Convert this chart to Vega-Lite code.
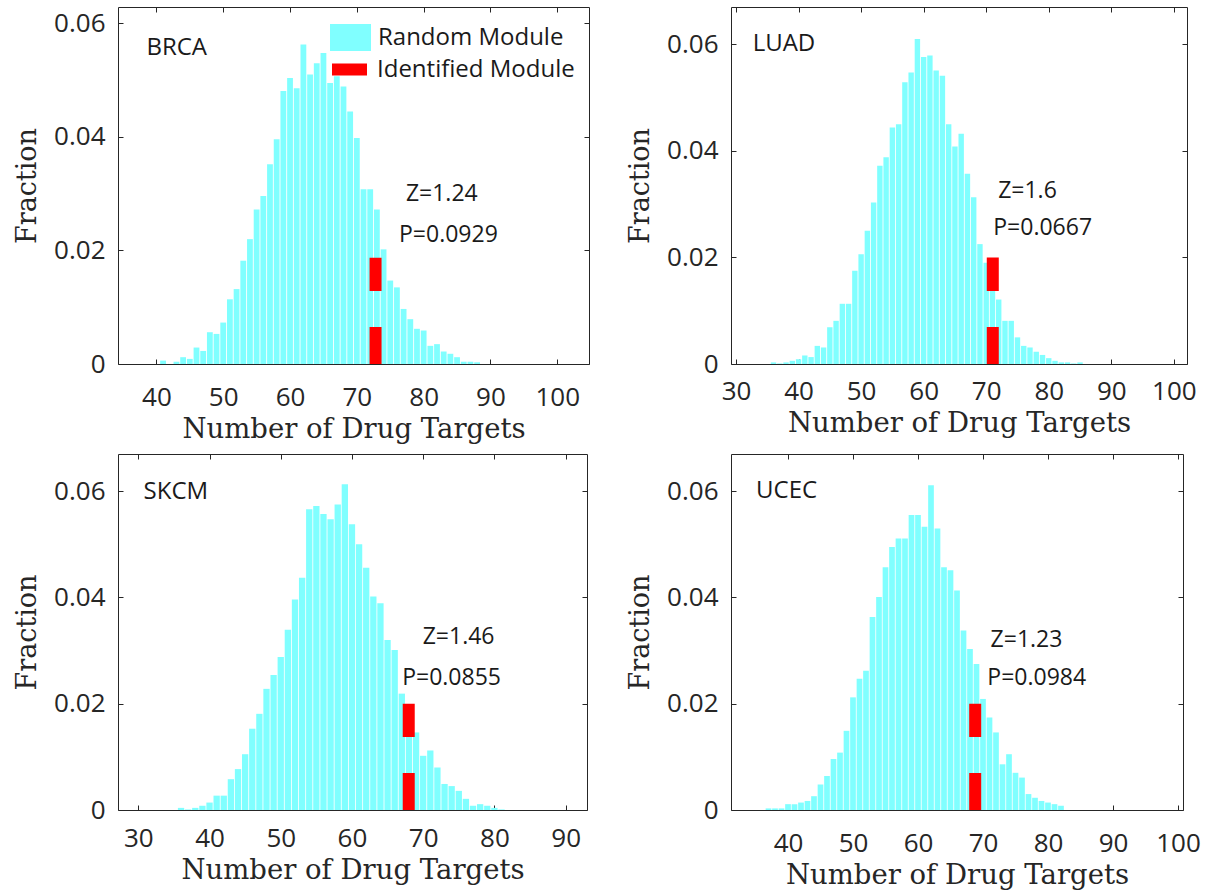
{
  "$schema": "https://vega.github.io/schema/vega-lite/v6.json",
  "autosize": {"type": "none"},
  "padding": {"left": 118, "top": 7, "right": 1093, "bottom": 889},
  "background": "white",
  "columns": 2,
  "spacing": {"column": 142, "row": 90},
  "bounds": "flush",
  "align": "all",
  "resolve": {"scale": {"fill": "independent", "stroke": "independent"}, "legend": {"fill": "independent", "stroke": "independent"}},
  "datasets": {
    "brca": [
      {"n": 41, "f": 0.0006}, {"n": 43, "f": 0.0004}, {"n": 44, "f": 0.0012}, {"n": 45, "f": 0.0009},
      {"n": 46, "f": 0.0029}, {"n": 47, "f": 0.0023}, {"n": 48, "f": 0.0056}, {"n": 49, "f": 0.0053},
      {"n": 50, "f": 0.0073}, {"n": 51, "f": 0.0114}, {"n": 52, "f": 0.0132}, {"n": 53, "f": 0.0182},
      {"n": 54, "f": 0.0220}, {"n": 55, "f": 0.0272}, {"n": 56, "f": 0.0296}, {"n": 57, "f": 0.0352},
      {"n": 58, "f": 0.0396}, {"n": 59, "f": 0.0481}, {"n": 60, "f": 0.0504}, {"n": 61, "f": 0.0486},
      {"n": 62, "f": 0.0563}, {"n": 63, "f": 0.0510}, {"n": 64, "f": 0.0530}, {"n": 65, "f": 0.0548},
      {"n": 66, "f": 0.0495}, {"n": 67, "f": 0.0507}, {"n": 68, "f": 0.0489}, {"n": 69, "f": 0.0445},
      {"n": 70, "f": 0.0398}, {"n": 71, "f": 0.0308}, {"n": 72, "f": 0.0308}, {"n": 73, "f": 0.0272},
      {"n": 74, "f": 0.0202}, {"n": 75, "f": 0.0147}, {"n": 76, "f": 0.0135}, {"n": 77, "f": 0.0097},
      {"n": 78, "f": 0.0079}, {"n": 79, "f": 0.0062}, {"n": 80, "f": 0.0059}, {"n": 81, "f": 0.0032},
      {"n": 82, "f": 0.0035}, {"n": 83, "f": 0.0022}, {"n": 84, "f": 0.0018}, {"n": 85, "f": 0.0012},
      {"n": 86, "f": 0.0004}, {"n": 87, "f": 0.0004}, {"n": 88, "f": 0.0003}
    ],
    "luad": [
      {"n": 36, "f": 0.0003}, {"n": 37, "f": 0.0001}, {"n": 38, "f": 0.0003}, {"n": 39, "f": 0.0006},
      {"n": 40, "f": 0.0009}, {"n": 41, "f": 0.0016}, {"n": 42, "f": 0.0013}, {"n": 43, "f": 0.0034},
      {"n": 44, "f": 0.0031}, {"n": 45, "f": 0.0069}, {"n": 46, "f": 0.0081}, {"n": 47, "f": 0.0113},
      {"n": 48, "f": 0.0113}, {"n": 49, "f": 0.0175}, {"n": 50, "f": 0.0206}, {"n": 51, "f": 0.0250},
      {"n": 52, "f": 0.0303}, {"n": 53, "f": 0.0372}, {"n": 54, "f": 0.0388}, {"n": 55, "f": 0.0444},
      {"n": 56, "f": 0.0450}, {"n": 57, "f": 0.0529}, {"n": 58, "f": 0.0547}, {"n": 59, "f": 0.0610},
      {"n": 60, "f": 0.0576}, {"n": 61, "f": 0.0579}, {"n": 62, "f": 0.0551}, {"n": 63, "f": 0.0541},
      {"n": 64, "f": 0.0450}, {"n": 65, "f": 0.0408}, {"n": 66, "f": 0.0432}, {"n": 67, "f": 0.0357},
      {"n": 68, "f": 0.0313}, {"n": 69, "f": 0.0225}, {"n": 70, "f": 0.0190}, {"n": 71, "f": 0.0140},
      {"n": 72, "f": 0.0121}, {"n": 73, "f": 0.0081}, {"n": 74, "f": 0.0081}, {"n": 75, "f": 0.0050},
      {"n": 76, "f": 0.0034}, {"n": 77, "f": 0.0031}, {"n": 78, "f": 0.0023}, {"n": 79, "f": 0.0017},
      {"n": 80, "f": 0.0011}, {"n": 81, "f": 0.0006}, {"n": 82, "f": 0.0003}, {"n": 83, "f": 0.0003},
      {"n": 84, "f": 0.0001}, {"n": 85, "f": 0.0003}
    ],
    "skcm": [
      {"n": 36, "f": 0.0004}, {"n": 37, "f": 0.0001}, {"n": 38, "f": 0.0004}, {"n": 39, "f": 0.0008},
      {"n": 40, "f": 0.0014}, {"n": 41, "f": 0.0027}, {"n": 42, "f": 0.0027}, {"n": 43, "f": 0.0058},
      {"n": 44, "f": 0.0077}, {"n": 45, "f": 0.0105}, {"n": 46, "f": 0.0153}, {"n": 47, "f": 0.0181},
      {"n": 48, "f": 0.0228}, {"n": 49, "f": 0.0254}, {"n": 50, "f": 0.0288}, {"n": 51, "f": 0.0339},
      {"n": 52, "f": 0.0396}, {"n": 53, "f": 0.0437}, {"n": 54, "f": 0.0566}, {"n": 55, "f": 0.0572},
      {"n": 56, "f": 0.0557}, {"n": 57, "f": 0.0547}, {"n": 58, "f": 0.0575}, {"n": 59, "f": 0.0613},
      {"n": 60, "f": 0.0538}, {"n": 61, "f": 0.0500}, {"n": 62, "f": 0.0456}, {"n": 63, "f": 0.0402},
      {"n": 64, "f": 0.0389}, {"n": 65, "f": 0.0320}, {"n": 66, "f": 0.0301}, {"n": 67, "f": 0.0219},
      {"n": 68, "f": 0.0190}, {"n": 69, "f": 0.0146}, {"n": 70, "f": 0.0102}, {"n": 71, "f": 0.0112},
      {"n": 72, "f": 0.0080}, {"n": 73, "f": 0.0049}, {"n": 74, "f": 0.0045}, {"n": 75, "f": 0.0036},
      {"n": 76, "f": 0.0021}, {"n": 77, "f": 0.0008}, {"n": 78, "f": 0.0011}, {"n": 79, "f": 0.0008},
      {"n": 80, "f": 0.0004}, {"n": 81, "f": 0.0001}
    ],
    "ucec": [
      {"n": 37, "f": 0.0003}, {"n": 38, "f": 0.0003}, {"n": 39, "f": 0.0003}, {"n": 40, "f": 0.0011},
      {"n": 41, "f": 0.0011}, {"n": 42, "f": 0.0014}, {"n": 43, "f": 0.0017}, {"n": 44, "f": 0.0026},
      {"n": 45, "f": 0.0048}, {"n": 46, "f": 0.0064}, {"n": 47, "f": 0.0096}, {"n": 48, "f": 0.0108},
      {"n": 49, "f": 0.0149}, {"n": 50, "f": 0.0212}, {"n": 51, "f": 0.0247}, {"n": 52, "f": 0.0262},
      {"n": 53, "f": 0.0363}, {"n": 54, "f": 0.0401}, {"n": 55, "f": 0.0457}, {"n": 56, "f": 0.0495},
      {"n": 57, "f": 0.0511}, {"n": 58, "f": 0.0511}, {"n": 59, "f": 0.0555}, {"n": 60, "f": 0.0555},
      {"n": 61, "f": 0.0533}, {"n": 62, "f": 0.0611}, {"n": 63, "f": 0.0530}, {"n": 64, "f": 0.0457},
      {"n": 65, "f": 0.0451}, {"n": 66, "f": 0.0413}, {"n": 67, "f": 0.0338}, {"n": 68, "f": 0.0303},
      {"n": 69, "f": 0.0275}, {"n": 70, "f": 0.0209}, {"n": 71, "f": 0.0174}, {"n": 72, "f": 0.0146},
      {"n": 73, "f": 0.0086}, {"n": 74, "f": 0.0105}, {"n": 75, "f": 0.0070}, {"n": 76, "f": 0.0061},
      {"n": 77, "f": 0.0030}, {"n": 78, "f": 0.0023}, {"n": 79, "f": 0.0017}, {"n": 80, "f": 0.0014},
      {"n": 81, "f": 0.0011}, {"n": 82, "f": 0.0008}
    ]
  },
  "concat": [
    {
      "width": 471, "height": 357,
      "resolve": {"axis": {"x": "independent", "y": "independent"}},
      "layer": [
        {
          "data": {"name": "brca"},
          "mark": {"type": "bar", "width": 5.8},
          "encoding": {
            "x": {"field": "n", "type": "quantitative", "scale": {"domain": [35, 104], "nice": false, "zero": false},
                  "axis": {"orient": "bottom", "values": [40, 50, 60, 70, 80, 90, 100], "title": "Number of Drug Targets"}},
            "y": {"field": "f", "type": "quantitative", "scale": {"domain": [0, 0.0629], "nice": false, "zero": true},
                  "axis": {"orient": "left", "values": [0, 0.02, 0.04, 0.06], "labelExpr": "datum.value == 0 ? '0' : format(datum.value, '.2f')", "title": "Fraction"}},
            "fill": {"datum": "Random Module", "type": "nominal", "scale": {"range": ["#80ffff"]},
                     "legend": {"title": null, "orient": "none", "legendX": 212, "legendY": 10, "symbolType": "M-1,-0.66L1,-0.66L1,0.66L-1,0.66Z", "symbolSize": 1681, "symbolStrokeWidth": 0, "labelOffset": 7, "labelLimit": 0}}
          }
        },
        {
          "data": {"values": [{"n": 72.8, "lo": 0, "hi": 0.0187}]},
          "mark": {"type": "rule", "strokeWidth": 12, "strokeDash": [37, 36], "strokeCap": "butt"},
          "encoding": {
            "x": {"field": "n", "type": "quantitative", "axis": {"orient": "top", "values": [40, 50, 60, 70, 80, 90, 100], "labels": false, "title": null}},
            "y": {"field": "lo", "type": "quantitative", "axis": {"orient": "right", "values": [0, 0.02, 0.04, 0.06], "labels": false, "title": null}},
            "y2": {"field": "hi"},
            "stroke": {"datum": "Identified Module", "type": "nominal", "scale": {"range": ["#ff0000"]},
                       "legend": {"title": null, "orient": "none", "legendX": 208, "legendY": 39, "symbolType": "stroke", "symbolSize": 1225, "symbolStrokeWidth": 12, "symbolDash": [100, 0], "labelOffset": 4, "labelLimit": 0}}
          }
        },
        {
          "data": {"values": [{"x": 38.5, "y": 0.0557, "t": "BRCA"}]},
          "mark": {"type": "text", "align": "left", "baseline": "middle", "font": "Open Sans", "fontSize": 24, "color": "#1a1a1a"},
          "encoding": {"x": {"field": "x", "type": "quantitative", "axis": null}, "y": {"field": "y", "type": "quantitative", "axis": null}, "text": {"field": "t"}}
        },
        {
          "data": {"values": [{"x": 77.34, "y": 0.02995, "t": "Z=1.24"}, {"x": 76.31, "y": 0.02273, "t": "P=0.0929"}]},
          "mark": {"type": "text", "align": "left", "baseline": "middle", "font": "Open Sans", "fontSize": 23, "color": "#1a1a1a"},
          "encoding": {"x": {"field": "x", "type": "quantitative", "axis": null}, "y": {"field": "y", "type": "quantitative", "axis": null}, "text": {"field": "t"}}
        }
      ]
    },
    {
      "width": 456, "height": 357,
      "resolve": {"axis": {"x": "independent", "y": "independent"}},
      "layer": [
        {
          "data": {"name": "luad"},
          "mark": {"type": "bar", "width": 5.4, "color": "#80ffff"},
          "encoding": {
            "x": {"field": "n", "type": "quantitative", "scale": {"domain": [30, 101.3], "nice": false, "zero": false},
                  "axis": {"orient": "bottom", "values": [30, 40, 50, 60, 70, 80, 90, 100], "title": "Number of Drug Targets", "labelPadding": 19}},
            "y": {"field": "f", "type": "quantitative", "scale": {"domain": [0, 0.067], "nice": false, "zero": true},
                  "axis": {"orient": "left", "values": [0, 0.02, 0.04, 0.06], "labelExpr": "datum.value == 0 ? '0' : format(datum.value, '.2f')", "title": "Fraction"}}
          }
        },
        {
          "data": {"values": [{"n": 71.05, "lo": 0, "hi": 0.02}]},
          "mark": {"type": "rule", "color": "#ff0000", "strokeWidth": 12, "strokeDash": [37, 36], "strokeCap": "butt"},
          "encoding": {
            "x": {"field": "n", "type": "quantitative", "axis": {"orient": "top", "values": [30, 40, 50, 60, 70, 80, 90, 100], "labels": false, "title": null}},
            "y": {"field": "lo", "type": "quantitative", "axis": {"orient": "right", "values": [0, 0.02, 0.04, 0.06], "labels": false, "title": null}},
            "y2": {"field": "hi"}
          }
        },
        {
          "data": {"values": [{"x": 32.66, "y": 0.06006, "t": "LUAD"}]},
          "mark": {"type": "text", "align": "left", "baseline": "middle", "font": "Open Sans", "fontSize": 24, "color": "#1a1a1a"},
          "encoding": {"x": {"field": "x", "type": "quantitative", "axis": null}, "y": {"field": "y", "type": "quantitative", "axis": null}, "text": {"field": "t"}}
        },
        {
          "data": {"values": [{"x": 71.91, "y": 0.03238, "t": "Z=1.6"}, {"x": 71.13, "y": 0.02553, "t": "P=0.0667"}]},
          "mark": {"type": "text", "align": "left", "baseline": "middle", "font": "Open Sans", "fontSize": 23, "color": "#1a1a1a"},
          "encoding": {"x": {"field": "x", "type": "quantitative", "axis": null}, "y": {"field": "y", "type": "quantitative", "axis": null}, "text": {"field": "t"}}
        }
      ]
    },
    {
      "width": 469, "height": 356,
      "resolve": {"axis": {"x": "independent", "y": "independent"}},
      "layer": [
        {
          "data": {"name": "skcm"},
          "mark": {"type": "bar", "width": 6.3, "color": "#80ffff"},
          "encoding": {
            "x": {"field": "n", "type": "quantitative", "scale": {"domain": [27.85, 92.3], "nice": false, "zero": false},
                  "axis": {"orient": "bottom", "values": [30, 40, 50, 60, 70, 80, 90], "title": "Number of Drug Targets", "labelPadding": 20}},
            "y": {"field": "f", "type": "quantitative", "scale": {"domain": [0, 0.067], "nice": false, "zero": true},
                  "axis": {"orient": "left", "values": [0, 0.02, 0.04, 0.06], "labelExpr": "datum.value == 0 ? '0' : format(datum.value, '.2f')", "title": "Fraction"}}
          }
        },
        {
          "data": {"values": [{"n": 67.97, "lo": 0, "hi": 0.02}]},
          "mark": {"type": "rule", "color": "#ff0000", "strokeWidth": 12, "strokeDash": [37, 36], "strokeCap": "butt"},
          "encoding": {
            "x": {"field": "n", "type": "quantitative", "axis": {"orient": "top", "values": [30, 40, 50, 60, 70, 80, 90], "labels": false, "title": null}},
            "y": {"field": "lo", "type": "quantitative", "axis": {"orient": "right", "values": [0, 0.02, 0.04, 0.06], "labels": false, "title": null}},
            "y2": {"field": "hi"}
          }
        },
        {
          "data": {"values": [{"x": 30.74, "y": 0.05994, "t": "SKCM"}]},
          "mark": {"type": "text", "align": "left", "baseline": "middle", "font": "Open Sans", "fontSize": 24, "color": "#1a1a1a"},
          "encoding": {"x": {"field": "x", "type": "quantitative", "axis": null}, "y": {"field": "y", "type": "quantitative", "axis": null}, "text": {"field": "t"}}
        },
        {
          "data": {"values": [{"x": 69.93, "y": 0.0325, "t": "Z=1.46"}, {"x": 67.05, "y": 0.0248, "t": "P=0.0855"}]},
          "mark": {"type": "text", "align": "left", "baseline": "middle", "font": "Open Sans", "fontSize": 23, "color": "#1a1a1a"},
          "encoding": {"x": {"field": "x", "type": "quantitative", "axis": null}, "y": {"field": "y", "type": "quantitative", "axis": null}, "text": {"field": "t"}}
        }
      ]
    },
    {
      "width": 452, "height": 356,
      "resolve": {"axis": {"x": "independent", "y": "independent"}},
      "layer": [
        {
          "data": {"name": "ucec"},
          "mark": {"type": "bar", "width": 5.7, "color": "#80ffff"},
          "encoding": {
            "x": {"field": "n", "type": "quantitative", "scale": {"domain": [32, 100], "nice": false, "zero": false},
                  "axis": {"orient": "bottom", "values": [40, 50, 60, 70, 80, 90, 100], "title": "Number of Drug Targets"}},
            "y": {"field": "f", "type": "quantitative", "scale": {"domain": [0, 0.067], "nice": false, "zero": true},
                  "axis": {"orient": "left", "values": [0, 0.02, 0.04, 0.06], "labelExpr": "datum.value == 0 ? '0' : format(datum.value, '.2f')", "title": "Fraction"}}
          }
        },
        {
          "data": {"values": [{"n": 68.8, "lo": 0, "hi": 0.02}]},
          "mark": {"type": "rule", "color": "#ff0000", "strokeWidth": 12, "strokeDash": [37, 36], "strokeCap": "butt"},
          "encoding": {
            "x": {"field": "n", "type": "quantitative", "axis": {"orient": "top", "values": [40, 50, 60, 70, 80, 90, 100], "labels": false, "title": null}},
            "y": {"field": "lo", "type": "quantitative", "axis": {"orient": "right", "values": [0, 0.02, 0.04, 0.06], "labels": false, "title": null}},
            "y2": {"field": "hi"}
          }
        },
        {
          "data": {"values": [{"x": 35.08, "y": 0.0601, "t": "UCEC"}]},
          "mark": {"type": "text", "align": "left", "baseline": "middle", "font": "Open Sans", "fontSize": 24, "color": "#1a1a1a"},
          "encoding": {"x": {"field": "x", "type": "quantitative", "axis": null}, "y": {"field": "y", "type": "quantitative", "axis": null}, "text": {"field": "t"}}
        },
        {
          "data": {"values": [{"x": 71.17, "y": 0.032, "t": "Z=1.23"}, {"x": 70.67, "y": 0.0248, "t": "P=0.0984"}]},
          "mark": {"type": "text", "align": "left", "baseline": "middle", "font": "Open Sans", "fontSize": 23, "color": "#1a1a1a"},
          "encoding": {"x": {"field": "x", "type": "quantitative", "axis": null}, "y": {"field": "y", "type": "quantitative", "axis": null}, "text": {"field": "t"}}
        }
      ]
    }
  ],
  "config": {
    "view": {"stroke": "#262626", "strokeWidth": 1},
    "axis": {
      "grid": false, "domain": false, "tickColor": "#262626", "tickSize": -5, "tickWidth": 1,
      "labelFont": "Open Sans", "labelFontSize": 26, "labelColor": "#262626",
      "titleFont": "DejaVu Serif", "titleFontSize": 27, "titleFontWeight": "normal", "titleColor": "#262626"
    },
    "axisX": {"labelPadding": 25, "titlePadding": 5, "titleFontSize": 27.5},
    "axisY": {"labelPadding": 18, "titlePadding": 12},
    "legend": {"labelFont": "Open Sans", "labelFontSize": 24, "labelColor": "#1a1a1a", "padding": 0, "symbolOpacity": 1}
  }
}
